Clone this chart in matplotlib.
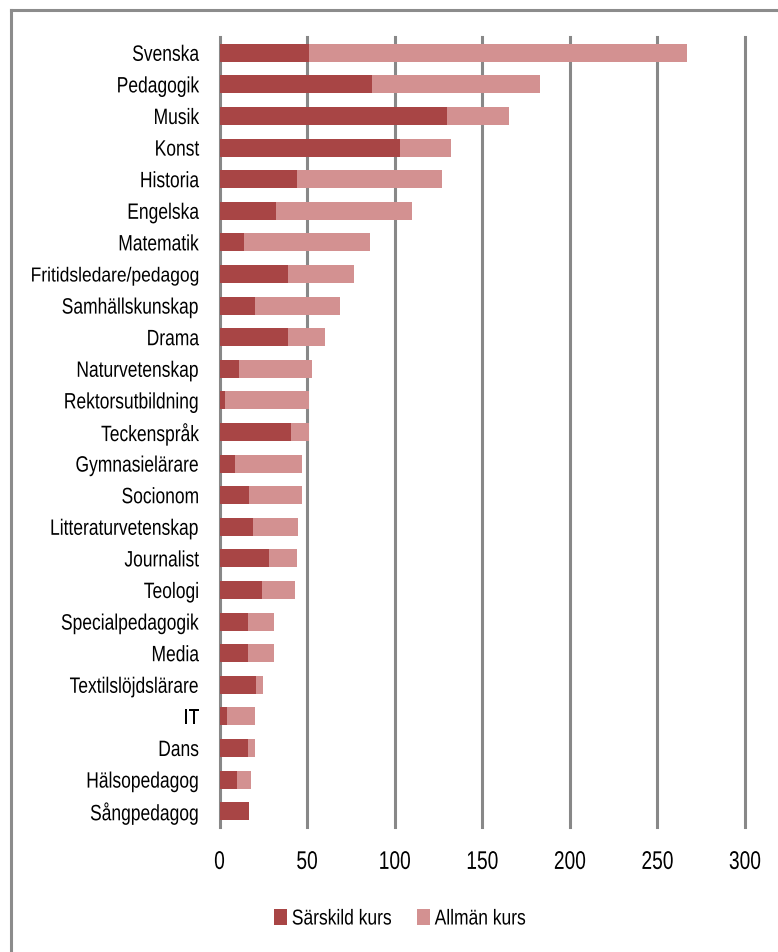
import types
import matplotlib
matplotlib.use("Agg")
import matplotlib.pyplot as plt
from matplotlib.lines import Line2D
from matplotlib.patheffects import AbstractPathEffect
from matplotlib.transforms import Affine2D, Bbox
from matplotlib.text import Text

categories = ["Svenska", "Pedagogik", "Musik", "Konst", "Historia", "Engelska",
              "Matematik", "Fritidsledare/pedagog", "Samhällskunskap", "Drama",
              "Naturvetenskap", "Rektorsutbildning", "Teckenspråk", "Gymnasielärare",
              "Socionom", "Litteraturvetenskap", "Journalist", "Teologi",
              "Specialpedagogik", "Media", "Textilslöjdslärare", "IT", "Dans",
              "Hälsopedagog", "Sångpedagog"]
sarskild = [51, 87, 130, 103, 44, 32, 14, 39, 20, 39, 11, 3, 41, 9, 17, 19, 28, 24,
            16, 16, 21, 4, 16, 10, 17]
allman = [216, 96, 35, 29, 83, 78, 72, 38, 49, 21, 42, 48, 10, 38, 30, 26, 16, 19,
          15, 15, 4, 16, 4, 8, 0]
xticks = [0, 50, 100, 150, 200, 250, 300]
series_names = ["Särskild kurs", "Allmän kurs"]


class HScale(AbstractPathEffect):
    """Horizontally condense text (narrow font look), anchored left/right/center."""

    def __init__(self, sx, anchor="left"):
        super().__init__()
        self.sx = sx
        self.anchor = anchor

    def draw_path(self, renderer, gc, tpath, affine, rgbFace=None):
        ext = tpath.get_extents(affine)
        if self.anchor == "right":
            a = ext.x1
        elif self.anchor == "center":
            a = 0.5 * (ext.x0 + ext.x1)
        else:
            a = ext.x0
        new = affine + Affine2D().translate(-a, 0).scale(self.sx, 1).translate(a, 0)
        renderer.draw_path(gc, tpath, new, rgbFace)


def condense(txt, sx, anchor):
    txt.set_path_effects([HScale(sx, anchor)])

    def extent(self, renderer=None, dpi=None):
        bb = Text.get_window_extent(self, renderer, dpi)
        x0, x1 = bb.x0, bb.x1
        if anchor == "right":
            a = x1
        elif anchor == "center":
            a = 0.5 * (x0 + x1)
        else:
            a = x0
        return Bbox([[a + (x0 - a) * sx, bb.y0], [a + (x1 - a) * sx, bb.y1]])

    txt.get_window_extent = types.MethodType(extent, txt)


plt.rcParams["font.family"] = ["Liberation Sans", "DejaVu Sans"]

W, H = 778, 953
fig = plt.figure(figsize=(W / 100, H / 100), dpi=100)
ax = fig.add_axes([219.5 / W, 1 - 828 / H, (745 - 219.5) / W, (828 - 38) / H])

dark = "#A84545"
light = "#D39191"
n = len(categories)
ypos = list(range(n))
ax.barh(ypos, sarskild, height=0.57, color=dark, label=series_names[0], zorder=3)
ax.barh(ypos, allman, left=sarskild, height=0.57, color=light, label=series_names[1], zorder=3)

ax.set_ylim(n - 0.5, -0.5)
ax.set_xlim(0, 300)
ax.set_xticks(xticks)
ax.set_xticklabels([str(t) for t in xticks], fontsize=18.4)
ax.set_yticks(ypos)
ax.set_yticklabels(categories, fontsize=16)
ax.tick_params(axis="both", length=0, colors="black")
ax.tick_params(axis="x", pad=16.5)
ax.tick_params(axis="y", pad=14.5)
for lbl in ax.get_yticklabels():
    if len(lbl.get_text()) > 20:
        # longest label: slightly smaller base size so its layout box stays in the figure
        lbl.set_fontsize(14.6)
        condense(lbl, 0.86, "right")
    else:
        condense(lbl, 0.785, "right")
for lbl in ax.get_xticklabels():
    condense(lbl, 0.75, "center")
for s in ax.spines.values():
    s.set_visible(False)
ax.grid(axis="x", color="#888888", linewidth=2.2, zorder=0)
ax.set_axisbelow(True)
for gl in ax.get_xgridlines():
    gl.set_clip_on(False)

handles, labels = ax.get_legend_handles_labels()
leg_x = [274 / W, 417 / W]
for h, l, lx in zip(handles, labels, leg_x):
    leg = fig.legend([h], [l], loc="center left", bbox_to_anchor=(lx, 1 - 920 / H),
                     frameon=False, fontsize=15.5, handlelength=0.6, handleheight=0.75,
                     handletextpad=0.22, borderpad=0, borderaxespad=0)
    for t in leg.get_texts():
        condense(t, 0.81, "left")

# outer frame lines (top and left)
fig.add_artist(Line2D([11 / W, 1], [1 - 11 / H, 1 - 11 / H], color="#8c8c8c", lw=2.2))
fig.add_artist(Line2D([11 / W, 11 / W], [0, 1 - 11 / H], color="#8c8c8c", lw=2.2))

fig.savefig("out.png", dpi=100)
